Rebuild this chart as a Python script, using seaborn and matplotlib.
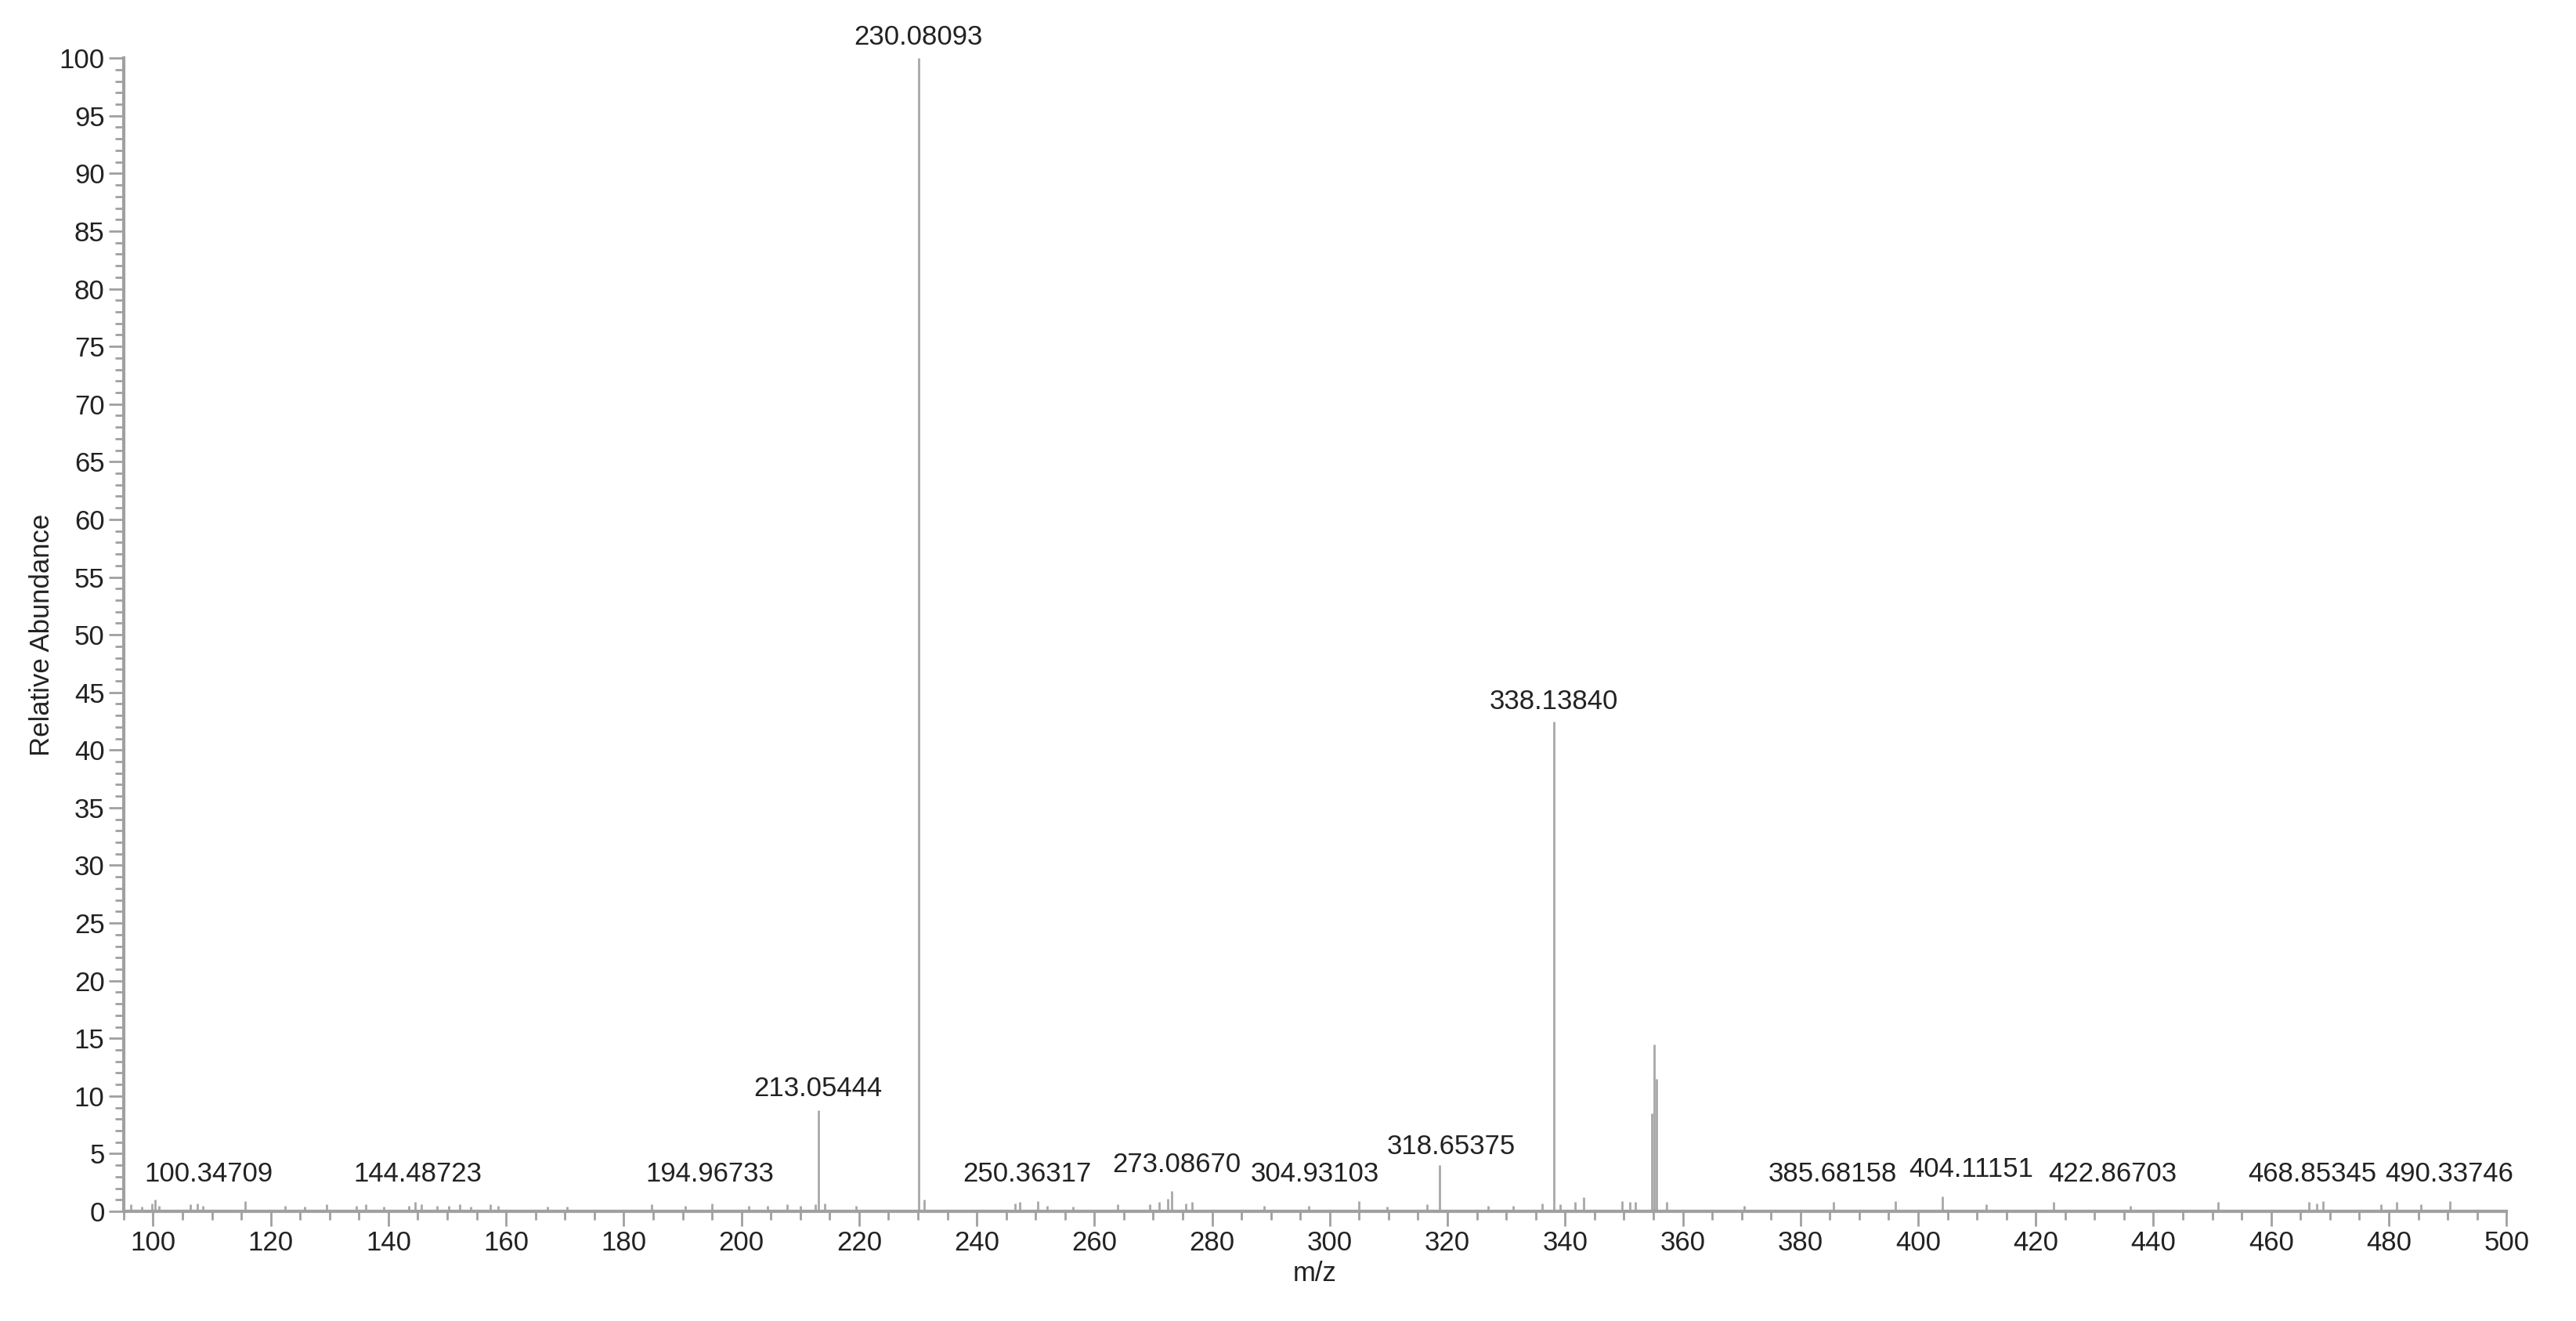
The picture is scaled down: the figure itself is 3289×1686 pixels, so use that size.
import numpy as np
import pandas as pd
import matplotlib.pyplot as plt
import seaborn as sns
from matplotlib.ticker import MultipleLocator

sns.set_style("white")
plt.rcParams['font.family'] = ['Liberation Sans', 'DejaVu Sans']

# peak positions (m/z) and relative abundance
mz = [96.2, 98.1, 99.8, 100.35, 101.0, 106.3, 107.5, 108.4, 115.6, 122.4, 125.8, 129.5,
      134.6, 136.1, 139.2, 143.5, 144.49, 145.6, 148.3, 150.2, 152.1, 154.0, 157.3, 158.6,
      167.0, 170.4, 184.8, 190.5, 194.97, 201.2, 204.5, 207.8, 210.1, 212.6, 213.05444,
      214.1, 219.5, 230.08093, 231.1, 246.5, 247.3, 250.36, 252.0, 256.3, 264.0, 269.4,
      271.0, 272.5, 273.0867, 275.5, 276.6, 288.8, 296.4, 304.93, 309.7, 316.5, 318.65375,
      326.9, 331.2, 336.1, 338.1384, 339.2, 341.7, 343.2, 349.7, 351.0, 352.0, 354.7,
      355.2, 355.5, 357.3, 370.4, 385.68, 396.2, 404.11, 411.6, 423.0, 436.1, 451.0,
      466.4, 467.8, 468.85, 478.7, 481.4, 485.5, 490.34]
abund = [0.6, 0.4, 0.7, 1.0, 0.5, 0.6, 0.7, 0.5, 0.9, 0.5, 0.4, 0.6,
         0.5, 0.6, 0.4, 0.5, 0.8, 0.6, 0.5, 0.5, 0.6, 0.4, 0.6, 0.5,
         0.4, 0.4, 0.6, 0.5, 0.7, 0.5, 0.5, 0.6, 0.5, 0.6, 8.8,
         0.7, 0.5, 100.0, 1.0, 0.7, 0.8, 0.9, 0.5, 0.4, 0.6, 0.6,
         0.8, 1.1, 1.8, 0.7, 0.8, 0.5, 0.5, 0.9, 0.4, 0.6, 4.0,
         0.5, 0.5, 0.7, 42.5, 0.6, 0.8, 1.2, 0.9, 0.8, 0.8, 8.5,
         14.5, 11.5, 0.8, 0.5, 0.8, 0.9, 1.3, 0.6, 0.8, 0.5, 0.8,
         0.8, 0.7, 0.9, 0.6, 0.8, 0.6, 0.9]
labels = ["100.34709", "144.48723", "194.96733", "213.05444", "230.08093", "250.36317",
          "273.08670", "304.93103", "318.65375", "338.13840", "385.68158", "404.11151",
          "422.86703", "468.85345", "490.33746"]
# label centres as placed in the reference (not always right over the peak)
label_x = [109.5, 145.0, 194.7, 213.05, 230.08, 248.5, 274.0, 297.5,
           320.6, 338.14, 385.5, 409.0, 433.0, 467.0, 490.3]
label_y = [1.6, 1.6, 1.6, 9.0, 100.2, 1.6, 2.4, 1.6, 4.0, 42.6, 1.6, 2.0, 1.6, 1.6, 1.6]

df = pd.DataFrame({"mz": mz, "abund": abund})

fig, ax = plt.subplots(figsize=(32.89, 16.86), dpi=100)
fig.subplots_adjust(left=0.048, right=0.973, top=0.956, bottom=0.083)
ax.vlines(df["mz"], 0, df["abund"], color="#a8a8a8", lw=2)

for t, x, y in zip(labels, label_x, label_y):
    ax.text(x, y + 0.5, t, ha="center", va="bottom", fontsize=25, color="#222222")

ax.set_xlim(95, 500)
ax.set_ylim(0, 100)
ax.xaxis.set_major_locator(MultipleLocator(20))
ax.xaxis.set_minor_locator(MultipleLocator(5))
ax.yaxis.set_major_locator(MultipleLocator(5))
ax.yaxis.set_minor_locator(MultipleLocator(1))
ax.tick_params(axis="both", which="major", direction="out", length=14, width=2,
               color="#a0a0a0", labelsize=25, labelcolor="#222222")
ax.tick_params(axis="both", which="minor", direction="out", length=8, width=2,
               color="#a0a0a0")
ax.tick_params(axis="x", which="both", bottom=True)
ax.tick_params(axis="y", which="both", left=True)
sns.despine(ax=ax)
for s in ["left", "bottom"]:
    ax.spines[s].set_color("#a0a0a0")
    ax.spines[s].set_linewidth(3)
ax.set_xlabel("m/z", fontsize=25, color="#222222")
ax.set_ylabel("Relative Abundance", fontsize=25, color="#222222")

plt.savefig("out.png")
